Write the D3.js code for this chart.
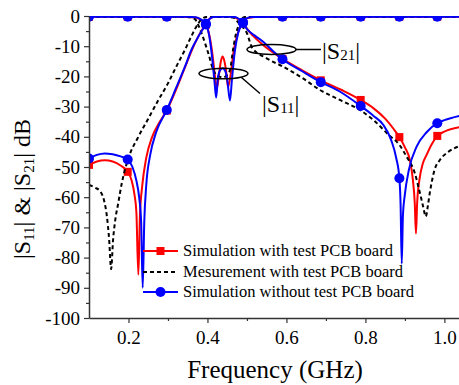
<!DOCTYPE html>
<html>
<head>
<meta charset="utf-8">
<script src="https://cdn.jsdelivr.net/npm/d3@7"></script>
<style>
  body { margin: 0; background: #fff; }
  svg { display: block; font-family: "Liberation Serif", "Times New Roman", serif; }
</style>
</head>
<body>
<div id="chart"></div>
<script>
var width = 459,
    height = 385;

// frequencies (GHz) where the simulated curves carry a marker
var markerFreq = [0.1, 0.198, 0.297, 0.396, 0.49, 0.59, 0.687, 0.788, 0.886, 0.982];

// [frequency GHz, dB]
var redS21 = [[0.1,-49.3],[0.12,-48.2],[0.14,-47.8],[0.16,-48.2],[0.18,-49.5],[0.198,-51.6],[0.208,-54.5],[0.215,-59],[0.22,-65],[0.225,-85.7],[0.229,-66],[0.235,-56],[0.245,-47],[0.26,-40],[0.277,-35.5],[0.297,-31.3],[0.32,-24.5],[0.343,-17],[0.365,-10],[0.38,-6],[0.396,-2.8],[0.405,-1],[0.415,-0.3],[0.43,-0.2],[0.45,-0.2],[0.465,-0.3],[0.478,-1],[0.49,-2.2],[0.5,-4.2],[0.515,-6.5],[0.54,-9.5],[0.565,-12],[0.59,-14.2],[0.64,-18],[0.687,-21.3],[0.74,-24.5],[0.788,-27.8],[0.82,-30.5],[0.85,-34],[0.872,-37.5],[0.886,-40.1],[0.9,-43.5],[0.913,-48],[0.92,-54],[0.925,-62],[0.928,-72],[0.931,-62],[0.937,-54],[0.945,-49],[0.955,-46],[0.968,-42.5],[0.982,-39.7],[1.0,-38.3],[1.04,-36.8]];

var redS11 = [[0.1,-0.25],[0.198,-0.25],[0.297,-0.25],[0.35,-0.3],[0.37,-0.5],[0.383,-1.2],[0.396,-2.8],[0.405,-6.5],[0.413,-13],[0.419,-20],[0.424,-24],[0.429,-19.5],[0.434,-15],[0.438,-13.4],[0.442,-14.5],[0.447,-18],[0.452,-23.5],[0.458,-20],[0.466,-12],[0.476,-6],[0.49,-2.2],[0.5,-0.8],[0.52,-0.3],[0.59,-0.25],[0.687,-0.25],[0.788,-0.25],[0.886,-0.25],[0.982,-0.25],[1.04,-0.25]];

var measS21 = [[0.1,-55.9],[0.115,-56.8],[0.128,-58],[0.138,-61],[0.145,-66],[0.151,-74],[0.156,-83.8],[0.161,-74],[0.166,-68],[0.174,-62],[0.183,-55.4],[0.2,-47],[0.225,-40],[0.25,-34],[0.275,-28],[0.3,-22.3],[0.322,-16.5],[0.343,-11.2],[0.36,-6.5],[0.377,-2.4],[0.39,-0.6],[0.4,-0.3],[0.45,-0.3],[0.465,-0.5],[0.48,-2.5],[0.5,-5.7],[0.513,-10.5],[0.55,-14],[0.592,-16.8],[0.64,-20.5],[0.685,-24.5],[0.735,-27.8],[0.786,-31.1],[0.82,-34.4],[0.86,-39.5],[0.885,-42.5],[0.904,-46.5],[0.925,-52],[0.938,-58.6],[0.946,-63],[0.953,-66.4],[0.958,-63],[0.963,-58.6],[0.975,-51],[0.989,-47.6],[1.01,-45],[1.04,-43]];

var measS11 = [[0.1,-0.25],[0.3,-0.25],[0.345,-0.3],[0.36,-0.5],[0.37,-1.3],[0.385,-5.7],[0.402,-12.3],[0.415,-17.9],[0.425,-19.8],[0.44,-20.3],[0.45,-19.5],[0.457,-17.9],[0.465,-11],[0.472,-6],[0.478,-3.5],[0.487,-0.8],[0.497,-0.3],[0.6,-0.25],[1.04,-0.25]];

var blueS21 = [[0.1,-47.2],[0.12,-46],[0.14,-45.5],[0.16,-45.8],[0.18,-46.5],[0.198,-47.5],[0.21,-50],[0.22,-54.5],[0.227,-60],[0.232,-68],[0.236,-90],[0.24,-68],[0.245,-56],[0.255,-46],[0.27,-38.5],[0.297,-31.1],[0.32,-24],[0.343,-16.8],[0.36,-11],[0.377,-6.8],[0.396,-2.8],[0.405,-1],[0.415,-0.3],[0.43,-0.25],[0.455,-0.25],[0.468,-0.3],[0.48,-1],[0.49,-2.2],[0.5,-4.3],[0.52,-6.5],[0.541,-8.5],[0.565,-11.5],[0.59,-14.3],[0.64,-18.3],[0.687,-21.9],[0.735,-25],[0.788,-29.8],[0.82,-33],[0.845,-36],[0.865,-41],[0.878,-47],[0.886,-53.7],[0.889,-62],[0.892,-82],[0.895,-66],[0.9,-59],[0.91,-51],[0.93,-43.2],[0.955,-38.5],[0.982,-35.5],[1.0,-34.5],[1.04,-33]];

var blueS11 = [[0.1,-0.25],[0.198,-0.25],[0.297,-0.25],[0.35,-0.27],[0.37,-0.45],[0.383,-1.1],[0.396,-2.6],[0.405,-7],[0.412,-14],[0.418,-22],[0.422,-27],[0.426,-21],[0.431,-18.2],[0.438,-17.3],[0.445,-18.2],[0.45,-21],[0.457,-28],[0.462,-21],[0.469,-12],[0.478,-5.5],[0.49,-2.2],[0.5,-0.7],[0.515,-0.3],[0.59,-0.25],[0.687,-0.25],[0.788,-0.25],[0.886,-0.25],[0.982,-0.25],[1.04,-0.25]];

var xMajor = [0.2, 0.4, 0.6, 0.8, 1.0],
    xMinor = [0.3, 0.5, 0.7, 0.9],
    yMajor = d3.range(0, -101, -10),
    yMinor = d3.range(-5, -100, -10);

var legendItems = [
    { label: "Simulation with test PCB board", color: "#ff0000", dash: null, marker: "square" },
    { label: "Mesurement with test PCB board", color: "#000", dash: "4,3", marker: null },
    { label: "Simulation without test PCB board", color: "#0000ff", dash: null, marker: "circle" }
];

var x = d3.scaleLinear().domain([0.1, 1.037]).range([89, 459]);
var y = d3.scaleLinear().domain([-100, 0]).range([318, 16]);

var svg = d3.select("#chart").append("svg")
    .attr("width", width)
    .attr("height", height);

svg.append("clipPath").attr("id", "plot-clip")
    .append("rect")
    .attr("x", 89).attr("y", 16)
    .attr("width", 370).attr("height", 303);

var line = d3.line()
    .x(d => x(d[0]))
    .y(d => y(d[1]))
    .curve(d3.curveMonotoneX);

var plot = svg.append("g").attr("clip-path", "url(#plot-clip)");

function isMarker(d) {
    return markerFreq.some(f => Math.abs(f - d[0]) < 1e-6);
}

function drawSeries(data, color, dash, marker) {
    plot.append("path")
        .datum(data)
        .attr("fill", "none")
        .attr("stroke", color)
        .attr("stroke-width", 2)
        .attr("stroke-dasharray", dash)
        .attr("d", line);
    if (marker === "square") {
        plot.append("g").selectAll("rect")
            .data(data.filter(isMarker))
            .join("rect")
            .attr("x", d => x(d[0]) - 4)
            .attr("y", d => y(d[1]) - 4)
            .attr("width", 8).attr("height", 8)
            .attr("fill", color);
    } else if (marker === "circle") {
        plot.append("g").selectAll("circle")
            .data(data.filter(isMarker))
            .join("circle")
            .attr("cx", d => x(d[0]))
            .attr("cy", d => y(d[1]))
            .attr("r", 5)
            .attr("fill", color);
    }
}

drawSeries(redS21, "#ff0000", null, "square");
drawSeries(redS11, "#ff0000", null, "square");
drawSeries(measS21, "#000", "4,3", null);
drawSeries(measS11, "#000", "4,3", null);
drawSeries(blueS21, "#0000ff", null, "circle");
drawSeries(blueS11, "#0000ff", null, "circle");

// axes
svg.append("g")
    .attr("transform", "translate(0,318)")
    .call(d3.axisBottom(x).tickValues(xMajor).tickFormat(d3.format(".1f")).tickSize(5).tickSizeOuter(0).tickPadding(8));
svg.append("g")
    .attr("transform", "translate(0,318)")
    .call(d3.axisBottom(x).tickValues(xMinor).tickFormat("").tickSize(3).tickSizeOuter(0))
    .select(".domain").remove();

svg.append("g")
    .attr("transform", "translate(89,0)")
    .call(d3.axisLeft(y).tickValues(yMajor).tickFormat(d => String(d)).tickSize(5).tickSizeOuter(0).tickPadding(4));
svg.append("g")
    .attr("transform", "translate(89,0)")
    .call(d3.axisLeft(y).tickValues(yMinor).tickFormat("").tickSize(3).tickSizeOuter(0))
    .select(".domain").remove();

svg.selectAll(".domain").attr("stroke", "#333").attr("stroke-width", 1.5);
svg.selectAll(".tick line").attr("stroke", "#333").attr("stroke-width", 1.2);
svg.selectAll(".tick text")
    .attr("font-family", "Liberation Serif")
    .attr("font-size", 19)
    .attr("fill", "#000");

// axis titles
svg.append("text")
    .attr("x", 275).attr("y", 378)
    .attr("text-anchor", "middle")
    .attr("font-size", 25)
    .text("Frequency (GHz)");

var yTitle = svg.append("text")
    .attr("transform", "translate(30,189) rotate(-90)")
    .attr("text-anchor", "middle")
    .attr("font-size", 24);
yTitle.append("tspan").text("|S");
yTitle.append("tspan").attr("font-size", 15).attr("dy", 4).text("11");
yTitle.append("tspan").attr("dy", -4).text("| & |S");
yTitle.append("tspan").attr("font-size", 15).attr("dy", 4).text("21");
yTitle.append("tspan").attr("dy", -4).text("| dB");

// annotations
var ann = svg.append("g").attr("fill", "none").attr("stroke", "#000").attr("stroke-width", 1.5);
ann.append("ellipse").attr("cx", 271.5).attr("cy", 49.5).attr("rx", 24.5).attr("ry", 5);
ann.append("line").attr("x1", 296).attr("y1", 49.5).attr("x2", 321).attr("y2", 49.5);
ann.append("ellipse").attr("cx", 223.5).attr("cy", 73.5).attr("rx", 24.5).attr("ry", 5.3);
ann.append("line").attr("x1", 241.5).attr("y1", 77.5).attr("x2", 260).attr("y2", 93.5);

function annLabel(xp, yp, sub) {
    var t = svg.append("text").attr("x", xp).attr("y", yp).attr("font-size", 24);
    t.append("tspan").text("|S");
    t.append("tspan").attr("font-size", 15).attr("dy", 1).text(sub);
    t.append("tspan").attr("dy", -1).text("|");
}
annLabel(322, 59, "21");
annLabel(262, 112, "11");

// legend
var legend = svg.append("g").selectAll("g")
    .data(legendItems)
    .join("g")
    .attr("transform", (d, i) => "translate(143," + [251, 272, 292][i] + ")");

legend.append("line")
    .attr("x1", 0).attr("x2", 35)
    .attr("stroke", d => d.color)
    .attr("stroke-width", 2)
    .attr("stroke-dasharray", d => d.dash);

legend.filter(d => d.marker === "square").append("rect")
    .attr("x", 13.5).attr("y", -4).attr("width", 8).attr("height", 8)
    .attr("fill", d => d.color);
legend.filter(d => d.marker === "circle").append("circle")
    .attr("cx", 17.5).attr("r", 5)
    .attr("fill", d => d.color);

legend.append("text")
    .attr("x", 40)
    .attr("dy", "0.33em")
    .attr("font-size", 16.5)
    .text(d => d.label);
</script>
</body>
</html>
